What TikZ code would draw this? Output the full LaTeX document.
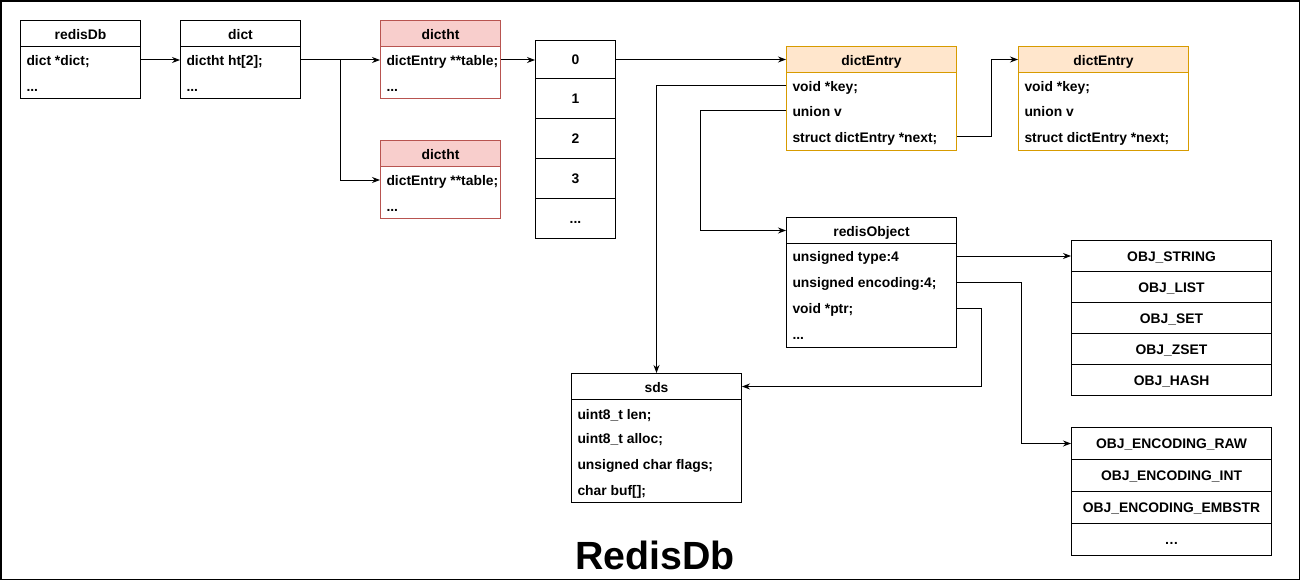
\documentclass[tikz,border=0pt]{standalone}
\usepackage{fontspec}
\setmainfont{Liberation Sans}
\usetikzlibrary{arrows.meta}
\definecolor{htfill}{HTML}{F8CECC}
\definecolor{htline}{HTML}{B85450}
\definecolor{entfill}{HTML}{FFE6CC}
\definecolor{entline}{HTML}{D79B00}
\tikzset{
  hdr/.style={draw, anchor=north west, minimum height=19.5pt, inner sep=0pt, text height=2ex, text depth=.4ex},
  body/.style={draw, anchor=north west, inner sep=0pt},
  fld/.style={anchor=west, inner sep=0pt, text height=1.9ex, text depth=.4ex},
  cell/.style={draw, anchor=north west, inner sep=0pt, text height=1.9ex, text depth=.4ex},
  arr/.style={-{Stealth[length=6pt,width=4.5pt]}},
  htbox/.style={draw=htline},
  entbox/.style={draw=entline}
}
\begin{document}
\begin{tikzpicture}[x=0.75pt, y=-0.75pt, line width=0.75pt,
  font=\fontsize{10.4}{12}\selectfont\bfseries]
  \useasboundingbox (0,0) rectangle (1301,581);
  \draw[line width=1.1pt] (1,1) rectangle (1299.5,579.5);

  % redisDb
  \node[hdr, minimum width=90pt] (redisdbH) at (20,20) {redisDb};
  \node[body, minimum width=90pt, minimum height=39pt] (redisdb) at (20,46) {};
  \node[fld] (db1) at (26,60) {dict *dict;};
  \node[fld] (db2) at (26,86) {...};

  % dict
  \node[hdr, minimum width=90pt] (dictH) at (180,20) {dict};
  \node[body, minimum width=90pt, minimum height=39pt] (dict) at (180,46) {};
  \node[fld] (dc1) at (186,60) {dictht ht[2];};
  \node[fld] (dc2) at (186,86) {...};

  % dictht
  \node[hdr, htbox, fill=htfill, minimum width=90pt] (htaH) at (380,20) {dictht};
  \node[body, htbox, minimum width=90pt, minimum height=39pt] (hta) at (380,46) {};
  \node[fld] (ha1) at (386,60) {dictEntry **table;};
  \node[fld] (ha2) at (386,86) {...};
  \node[hdr, htbox, fill=htfill, minimum width=90pt] (htbH) at (380,140) {dictht};
  \node[body, htbox, minimum width=90pt, minimum height=39pt] (htb) at (380,166) {};
  \node[fld] (hb1) at (386,180) {dictEntry **table;};
  \node[fld] (hb2) at (386,206) {...};

  % table
  \node[cell, minimum width=60pt, minimum height=28.5pt] (bk0) at (535,40) {0};
  \node[cell, minimum width=60pt, minimum height=30pt] (bk1) at (535,78) {1};
  \node[cell, minimum width=60pt, minimum height=30pt] (bk2) at (535,118) {2};
  \node[cell, minimum width=60pt, minimum height=30pt] (bk3) at (535,158) {3};
  \node[cell, minimum width=60pt, minimum height=30pt] (bkx) at (535,198) {...};

  % dictEntry
  \node[hdr, entbox, fill=entfill, minimum width=127.5pt] (entaH) at (786,46) {dictEntry};
  \node[body, entbox, minimum width=127.5pt, minimum height=58.5pt] (enta) at (786,72) {};
  \node[fld] (ea1) at (792,86) {void *key;};
  \node[fld] (ea2) at (792,111) {union v};
  \node[fld] (ea3) at (792,137) {struct dictEntry *next;};
  \node[hdr, entbox, fill=entfill, minimum width=127.5pt] (entbH) at (1018,46) {dictEntry};
  \node[body, entbox, minimum width=127.5pt, minimum height=58.5pt] (entb) at (1018,72) {};
  \node[fld] (eb1) at (1024,86) {void *key;};
  \node[fld] (eb2) at (1024,111) {union v};
  \node[fld] (eb3) at (1024,137) {struct dictEntry *next;};

  % redisObject
  \node[hdr, minimum width=127.5pt] (robjH) at (786,217) {redisObject};
  \node[body, minimum width=127.5pt, minimum height=78pt] (robj) at (786,243) {};
  \node[fld] (ro1) at (792,256) {unsigned type:4};
  \node[fld] (ro2) at (792,282) {unsigned encoding:4;};
  \node[fld] (ro3) at (792,308) {void *ptr;};
  \node[fld] (ro4) at (792,334) {...};

  % sds
  \node[hdr, minimum width=127.5pt] (sdsH) at (571,373) {sds};
  \node[body, minimum width=127.5pt, minimum height=77.25pt] (sds) at (571,399) {};
  \node[fld] (sd1) at (577,414) {uint8\_t len;};
  \node[fld] (sd2) at (577,438) {uint8\_t alloc;};
  \node[fld] (sd3) at (577,464) {unsigned char flags;};
  \node[fld] (sd4) at (577,490) {char buf[];};

  % types and encodings
  \foreach \t [count=\i from 0] in {OBJ\_STRING, OBJ\_LIST, OBJ\_SET, OBJ\_ZSET, OBJ\_HASH}
    \node[cell, minimum width=150pt, minimum height=23.25pt] (ty\i) at (1071,{240+31*\i}) {\t};
  \foreach \t [count=\i from 0] in {OBJ\_ENCODING\_RAW, OBJ\_ENCODING\_INT, OBJ\_ENCODING\_EMBSTR, \dots}
    \node[cell, minimum width=150pt, minimum height=24pt] (en\i) at (1071,{427+32*\i}) {\t};

  \node[anchor=base, font=\fontsize{29.5}{32}\selectfont\bfseries] (title) at (655,569) {RedisDb};

  % pointers
  \coordinate (split) at (340,60);
  \draw[arr] (redisdb.east |- db1) -- (dict.west |- dc1);
  \draw[arr] (dict.east |- dc1) -- (hta.west |- ha1);
  \draw[arr] (split) |- (htb.west |- hb1);
  \draw[arr] (hta.east |- ha1) -- (bk0.west |- ha1);
  \draw[arr] (bk0.east |- entaH) -- (entaH.west);
  \draw[arr] (enta.east |- ea3) -- ++(34,0) |- (entbH.west);
  \draw[arr] (enta.west |- ea1) -| (sdsH.north);
  \draw[arr] (enta.west |- ea2) -- ++(-86,0) |- (robjH.west);
  \draw[arr] (robj.east |- ty0) -- (ty0.west);
  \draw[arr] (robj.east |- ro2) -- ++(64,0) |- (en0.west);
  \draw[arr] (robj.east |- ro3) -- ++(24,0) |- (sdsH.east);
\end{tikzpicture}
\end{document}
